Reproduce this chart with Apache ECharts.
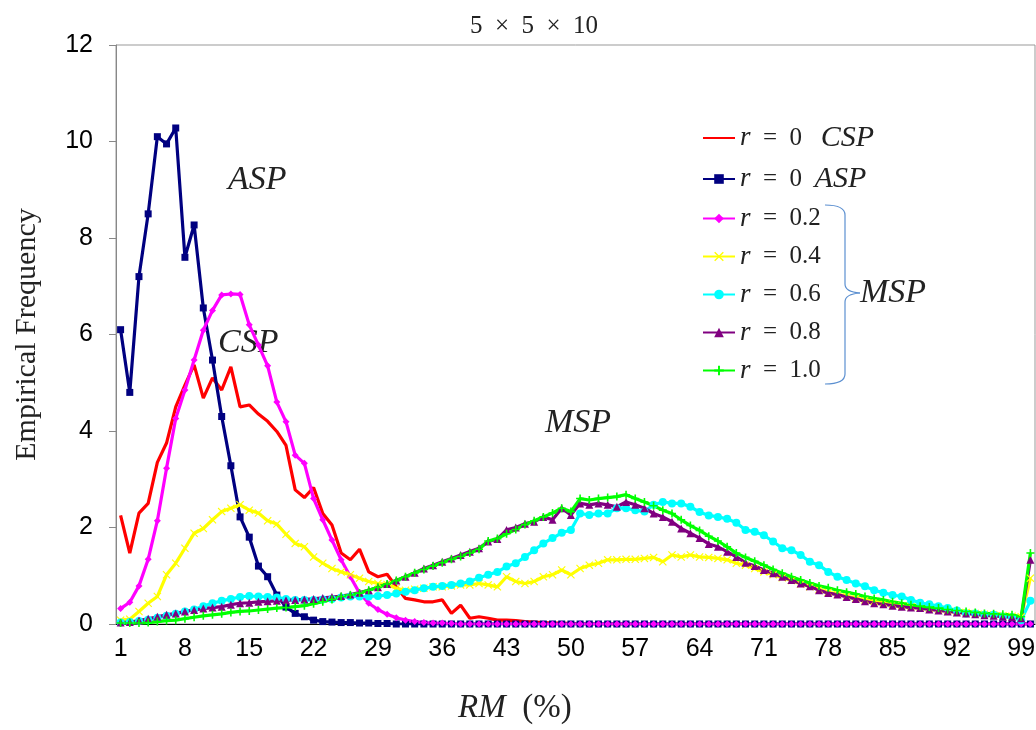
<!DOCTYPE html>
<html>
<head>
<meta charset="utf-8">
<script src="https://cdn.jsdelivr.net/npm/echarts@6/dist/echarts.min.js"></script>
<style>html,body{margin:0;padding:0;background:#fff}#c{width:1036px;height:730px}</style>
</head>
<body>
<div id="c"></div>
<script>
// RM (%) categories 1..100
const categories = [];
for (let i = 1; i <= 100; i++) categories.push(String(i));

const csp0 = [2.25,1.47,2.3,2.5,3.35,3.75,4.5,4.95,5.37,4.68,5.1,4.85,5.33,4.5,4.54,4.35,4.2,3.99,3.7,2.78,2.62,2.83,2.29,2.05,1.47,1.33,1.55,1.08,0.98,1.03,0.77,0.53,0.5,0.46,0.46,0.5,0.22,0.39,0.12,0.15,0.12,0.08,0.08,0.07,0.05,0.04,0.03,0.02,0.02,0.01,0,0,0,0,0,0,0,0,0,0,0,0,0,0,0,0,0,0,0,0,0,0,0,0,0,0,0,0,0,0,0,0,0,0,0,0,0,0,0,0,0,0,0,0,0,0,0,0,0,0];
const asp0 = [6.1,4.8,7.2,8.5,10.1,9.95,10.28,7.6,8.27,6.55,5.47,4.3,3.28,2.22,1.8,1.2,0.98,0.6,0.35,0.22,0.15,0.08,0.05,0.04,0.03,0.03,0.02,0.02,0.01,0.01,0,0,0,0,0,0,0,0,0,0,0,0,0,0,0,0,0,0,0,0,0,0,0,0,0,0,0,0,0,0,0,0,0,0,0,0,0,0,0,0,0,0,0,0,0,0,0,0,0,0,0,0,0,0,0,0,0,0,0,0,0,0,0,0,0,0,0,0,0,0];
const msp02 = [0.32,0.45,0.79,1.34,2.14,3.23,4.26,4.85,5.47,6.09,6.5,6.82,6.84,6.83,6.2,5.78,5.35,4.6,4.19,3.5,3.33,2.6,2.16,1.74,1.33,0.98,0.64,0.43,0.3,0.2,0.13,0.08,0.05,0.03,0.02,0.02,0.01,0,0,0,0,0,0,0,0,0,0,0,0,0,0,0,0,0,0,0,0,0,0,0,0,0,0,0,0,0,0,0,0,0,0,0,0,0,0,0,0,0,0,0,0,0,0,0,0,0,0,0,0,0,0,0,0,0,0,0,0,0,0,0];
const msp04 = [0.08,0.1,0.26,0.43,0.57,1.02,1.26,1.57,1.88,1.98,2.16,2.33,2.4,2.47,2.36,2.3,2.14,2.07,1.86,1.67,1.6,1.39,1.26,1.15,1.08,1.02,0.95,0.88,0.84,0.82,0.74,0.7,0.72,0.74,0.77,0.77,0.79,0.81,0.81,0.84,0.81,0.77,0.98,0.88,0.84,0.88,0.98,1.02,1.12,1.02,1.15,1.22,1.26,1.33,1.33,1.34,1.34,1.36,1.38,1.29,1.43,1.39,1.43,1.39,1.38,1.36,1.33,1.26,1.22,1.15,1.08,1.02,0.96,0.9,0.83,0.77,0.72,0.66,0.62,0.58,0.54,0.5,0.47,0.44,0.41,0.38,0.36,0.34,0.32,0.3,0.28,0.26,0.24,0.22,0.2,0.19,0.17,0.16,0.15,0.95];
const msp06 = [0.03,0.04,0.06,0.09,0.13,0.17,0.21,0.26,0.3,0.37,0.43,0.48,0.52,0.56,0.58,0.57,0.56,0.55,0.52,0.5,0.5,0.5,0.51,0.52,0.55,0.57,0.57,0.57,0.58,0.6,0.63,0.67,0.7,0.74,0.77,0.79,0.81,0.84,0.88,0.96,1.02,1.08,1.19,1.26,1.39,1.53,1.67,1.78,1.89,1.95,2.29,2.26,2.29,2.29,2.4,2.4,2.36,2.33,2.47,2.53,2.5,2.5,2.43,2.32,2.25,2.22,2.18,2.1,1.95,1.91,1.84,1.71,1.57,1.53,1.43,1.29,1.22,1.08,0.98,0.91,0.84,0.78,0.7,0.65,0.6,0.57,0.5,0.44,0.41,0.37,0.33,0.28,0.22,0.22,0.19,0.19,0.15,0.14,0.08,0.48];
const msp08 = [0.03,0.04,0.07,0.11,0.15,0.19,0.22,0.26,0.29,0.32,0.34,0.36,0.4,0.43,0.44,0.46,0.47,0.48,0.49,0.5,0.51,0.52,0.54,0.56,0.58,0.61,0.65,0.7,0.76,0.83,0.9,0.98,1.06,1.15,1.22,1.29,1.36,1.43,1.5,1.57,1.71,1.76,1.95,2.0,2.08,2.12,2.22,2.16,2.4,2.26,2.5,2.47,2.5,2.47,2.43,2.53,2.47,2.4,2.29,2.22,2.12,1.98,1.88,1.78,1.66,1.6,1.5,1.39,1.27,1.2,1.12,1.05,0.98,0.91,0.84,0.78,0.7,0.64,0.61,0.56,0.52,0.47,0.43,0.41,0.38,0.36,0.34,0.33,0.3,0.28,0.26,0.24,0.22,0.2,0.18,0.17,0.15,0.14,0.12,1.33];
const msp10 = [0.02,0.02,0.02,0.03,0.05,0.07,0.08,0.11,0.14,0.17,0.19,0.21,0.24,0.26,0.27,0.29,0.31,0.33,0.34,0.36,0.38,0.42,0.46,0.51,0.57,0.6,0.64,0.7,0.76,0.83,0.9,0.98,1.06,1.13,1.2,1.27,1.34,1.4,1.47,1.55,1.72,1.77,1.87,1.96,2.06,2.14,2.22,2.3,2.4,2.33,2.6,2.57,2.6,2.62,2.64,2.68,2.6,2.53,2.45,2.36,2.29,2.16,2.04,1.94,1.82,1.72,1.6,1.47,1.38,1.3,1.22,1.13,1.05,0.98,0.91,0.85,0.79,0.75,0.7,0.66,0.62,0.57,0.53,0.5,0.46,0.43,0.4,0.37,0.35,0.33,0.3,0.28,0.26,0.24,0.22,0.21,0.2,0.19,0.15,1.47];

const seriesNames = ['r = 0  CSP','r = 0  ASP','r = 0.2','r = 0.4','r = 0.6','r = 0.8','r = 1.0'];
const legendRich = {
  'r = 0  CSP': '{i|r}  =  0   {b|CSP}',
  'r = 0  ASP': '{i|r}  =  0  {b|ASP}',
  'r = 0.2': '{i|r}  =  0.2',
  'r = 0.4': '{i|r}  =  0.4',
  'r = 0.6': '{i|r}  =  0.6',
  'r = 0.8': '{i|r}  =  0.8',
  'r = 1.0': '{i|r}  =  1.0'
};

const SERIF = '"Liberation Serif","DejaVu Serif",serif';
const SANS = '"Liberation Sans",Arial,sans-serif';
const crossPath = 'path://M0,1 L1,0 L5,4 L9,0 L10,1 L6,5 L10,9 L9,10 L5,6 L1,10 L0,9 L4,5 Z';
const plusPath = 'path://M4,0 L6,0 L6,4 L10,4 L10,6 L6,6 L6,10 L4,10 L4,6 L0,6 L0,4 L4,4 Z';

function mk(name, data, color, symbol, size) {
  const s = {
    name: name, type: 'line', data: data,
    symbol: symbol, symbolSize: size, showSymbol: true, showAllSymbol: true,
    lineStyle: { color: color, width: 3.2 },
    itemStyle: { color: color },
    emphasis: { disabled: true },
    animation: false
  };
  if (symbol === 'none') {
    s.symbol = 'circle'; s.showSymbol = false;
    s.itemStyle = { color: 'rgba(0,0,0,0)' };
  }
  return s;
}

const braceStyle = { stroke: '#5b8fd0', lineWidth: 1.2, fill: 'none' };
const txtColor = '#222';

const chart = echarts.init(document.getElementById('c'), null, { renderer: 'canvas' });
chart.setOption({
  animation: false,
  backgroundColor: '#fff',
  title: {
    text: '5  ×  5  ×  10', left: 529, top: 9, textAlign: 'center',
    textStyle: { fontFamily: SERIF, fontSize: 25, fontWeight: 'normal', color: txtColor }
  },
  grid: { left: 116, right: 1, top: 45, bottom: 106, show: true, borderColor: '#999', borderWidth: 1,
          containLabel: false, outerBoundsMode: 'none' },
  legend: {
    orient: 'vertical', left: 697, top: 118, itemWidth: 32, itemHeight: 12, itemGap: 11,
    data: seriesNames,
    formatter: function (n) { return legendRich[n]; },
    textStyle: {
      fontFamily: SERIF, fontSize: 25, color: txtColor, lineHeight: 26,
      rich: {
        i: { fontFamily: SERIF, fontStyle: 'italic', fontSize: 27, color: txtColor, lineHeight: 26 },
        b: { fontFamily: SERIF, fontStyle: 'italic', fontSize: 30, color: txtColor, lineHeight: 26 }
      }
    },
    selectedMode: false
  },
  xAxis: {
    type: 'category', data: categories,
    axisLine: { lineStyle: { color: '#000', width: 1 } },
    axisTick: { interval: 0, length: 6, lineStyle: { color: '#000' } },
    axisLabel: { interval: 6, fontFamily: SANS, fontSize: 25, color: '#000', margin: 13 },
    splitLine: { show: false }
  },
  yAxis: {
    type: 'value', min: 0, max: 12, interval: 2,
    name: 'Empirical Frequency', nameLocation: 'middle', nameGap: 74,
    nameTextStyle: { fontFamily: SERIF, fontSize: 30, color: txtColor },
    axisLine: { show: true, lineStyle: { color: '#888' } },
    axisTick: { show: true, length: 7, lineStyle: { color: '#888' } },
    axisLabel: { fontFamily: SANS, fontSize: 25, color: '#000', margin: 23 },
    splitLine: { show: false }
  },
  series: [
    mk(seriesNames[0], csp0, '#FF0000', 'none', 0),
    mk(seriesNames[1], asp0, '#000080', 'rect', 7),
    mk(seriesNames[2], msp02, '#FF00FF', 'diamond', 7),
    mk(seriesNames[3], msp04, '#FFFF00', crossPath, 8),
    mk(seriesNames[4], msp06, '#00FFFF', 'circle', 8),
    mk(seriesNames[5], msp08, '#800080', 'triangle', 8),
    mk(seriesNames[6], msp10, '#00FF00', plusPath, 8)
  ],
  graphic: [
    { type: 'text', x: 228, y: 163, style: { text: 'ASP', font: 'italic 34px ' + SERIF, fill: txtColor } },
    { type: 'text', x: 218, y: 326, style: { text: 'CSP', font: 'italic 34px ' + SERIF, fill: txtColor } },
    { type: 'text', x: 545, y: 406, style: { text: 'MSP', font: 'italic 34px ' + SERIF, fill: txtColor } },
    { type: 'text', x: 860, y: 276, style: { text: 'MSP', font: 'italic 34px ' + SERIF, fill: txtColor } },
    { type: 'text', x: 458, y: 692, style: {
        text: '{i|RM}  (%)', fontFamily: SERIF, fontSize: 33, fill: txtColor,
        rich: { i: { fontFamily: SERIF, fontStyle: 'italic', fontSize: 33, color: txtColor } } } },
    { type: 'bezierCurve', shape: { x1: 825, y1: 205, cpx1: 845, cpy1: 205, x2: 845, y2: 215 }, style: braceStyle },
    { type: 'line', shape: { x1: 845, y1: 215, x2: 845, y2: 284 }, style: braceStyle },
    { type: 'bezierCurve', shape: { x1: 845, y1: 284, cpx1: 845, cpy1: 292, x2: 860, y2: 293 }, style: braceStyle },
    { type: 'bezierCurve', shape: { x1: 860, y1: 293, cpx1: 845, cpy1: 294, x2: 845, y2: 302 }, style: braceStyle },
    { type: 'line', shape: { x1: 845, y1: 302, x2: 845, y2: 374 }, style: braceStyle },
    { type: 'bezierCurve', shape: { x1: 845, y1: 374, cpx1: 845, cpy1: 384, x2: 825, y2: 384 }, style: braceStyle }
  ]
});
</script>
</body>
</html>
